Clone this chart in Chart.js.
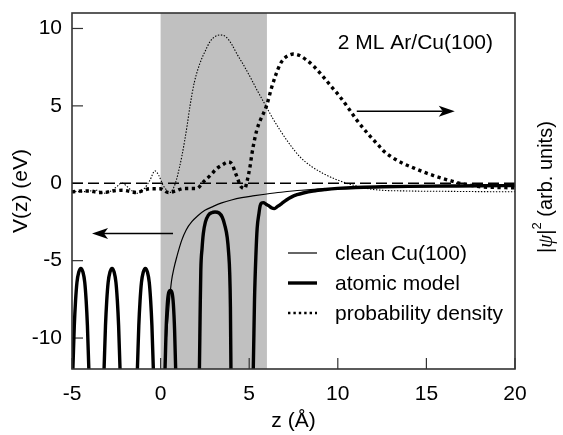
<!DOCTYPE html>
<html><head><meta charset="utf-8">
<script src="https://cdn.jsdelivr.net/npm/chart.js@4/dist/chart.umd.min.js"></script>
<style>html,body{margin:0;padding:0;background:#fff;}#wrap{width:563px;height:435px;}</style>
</head><body><div id="wrap"><canvas id="c" width="563" height="435"></canvas></div>
<script>
// ---- data ----
const xTicks = [-5, 0, 5, 10, 15, 20];
const yTicks = [-10, -5, 0, 5, 10];
const shadeRange = [0, 6];
const zeroZ = [-5, 20];
const zeroV = [0, 0];

const cleanZ = [0.22, 0.25, 0.34, 0.44, 0.53, 0.62, 0.75, 0.91, 1.19, 1.45, 1.75, 2.1, 2.5, 3.0, 3.45, 4.0, 4.58, 5.2, 5.89, 6.8, 7.96, 9.5, 11, 13, 15, 17.5, 20];
const cleanV = [-13, -11.46, -9.8, -8.4, -7.2, -6.28, -5.5, -4.77, -3.69, -3.0, -2.5, -2.1, -1.75, -1.48, -1.27, -1.08, -0.93, -0.82, -0.71, -0.58, -0.45, -0.35, -0.3, -0.25, -0.22, -0.2, -0.18];

const atomicZ = [
  -5.0, -4.95, -4.87, -4.8, -4.72, -4.62, -4.5, -4.38, -4.28, -4.2, -4.13, -4.05, -4.0, null,
  -3.24, -3.19, -3.11, -3.04, -2.96, -2.86, -2.74, -2.62, -2.52, -2.44, -2.37, -2.29, -2.24, null,
  -1.36, -1.31, -1.23, -1.16, -1.08, -0.98, -0.86, -0.74, -0.64, -0.56, -0.49, -0.41, -0.36, null,
  0.2, 0.25, 0.31, 0.38, 0.45, 0.55, 0.65, 0.72, 0.79, 0.85, 0.9, null,
  2.14, 2.19, 2.23, 2.27, 2.34, 2.41, 2.53, 2.69, 2.88, 3.07, 3.3, 3.48, 3.62, 3.76, 3.84, 3.9, 3.94, 3.97, 4.02, null,
  5.18, 5.23, 5.3, 5.38, 5.45, 5.55, 5.62, 5.7, 5.8, 5.95, 6.1, 6.25, 6.42, 6.6, 6.83, 7.1, 7.4, 7.7, 8.05, 8.6, 9.3, 10, 11, 12.5, 14, 16, 18, 20
];
const atomicV = [
  -13.5, -12, -9.2, -7.6, -6.4, -5.75, -5.5, -5.75, -6.4, -7.6, -9.2, -12, -13.5, null,
  -13.5, -12, -9.2, -7.6, -6.4, -5.75, -5.5, -5.75, -6.4, -7.6, -9.2, -12, -13.5, null,
  -13.5, -12, -9.2, -7.6, -6.4, -5.75, -5.5, -5.75, -6.4, -7.6, -9.2, -12, -13.5, null,
  -13.5, -12, -9.5, -7.8, -7.1, -6.93, -7.1, -7.8, -9.5, -12, -13.5, null,
  -13.5, -12, -8.5, -5.6, -4.2, -3.26, -2.5, -2.07, -1.9, -1.86, -1.92, -2.2, -2.7, -3.5, -4.5, -5.8, -8.0, -12, -13.5, null,
  -13.5, -12, -7.5, -4.6, -2.9, -1.95, -1.45, -1.27, -1.25, -1.35, -1.45, -1.58, -1.64, -1.5, -1.31, -1.08, -0.88, -0.74, -0.63, -0.5, -0.4, -0.33, -0.27, -0.23, -0.2, -0.18, -0.16, -0.15
];

const densityAZ = [-5, -4.5, -4, -3.6, -3.23, -2.8, -2.45, -2.2, -1.9, -1.6, -1.35, -1.0, -0.6, -0.32, -0.1, 0.14, 0.35, 0.53, 0.75, 0.9, 1.05, 1.2, 1.35, 1.5, 1.66, 1.9, 2.22, 2.5, 2.79, 3.1, 3.39, 3.7, 4.0, 4.29, 4.65, 5.05, 5.45, 5.89, 6.3, 6.74, 7.3, 7.87, 8.5, 9.18, 10.0, 10.9, 12, 14, 16, 18, 20];
const densityAV = [-0.5, -0.55, -0.5, -0.45, -0.65, -0.5, -0.2, 0.02, -0.2, -0.5, -0.65, -0.45, 0.2, 0.8, 0.5, -0.13, -0.45, -0.6, -0.25, 0.25, 0.95, 1.75, 2.7, 3.75, 5.0, 6.5, 7.75, 8.5, 9.15, 9.5, 9.58, 9.45, 9.0, 8.39, 7.7, 6.88, 6.0, 5.1, 4.25, 3.43, 2.5, 1.7, 1.1, 0.63, 0.2, -0.13, -0.4, -0.5, -0.52, -0.54, -0.55];

const densityBZ = [-5, -4.5, -3.98, -3.6, -3.23, -2.7, -2.16, -1.75, -1.35, -0.95, -0.6, -0.03, 0.44, 0.85, 1.28, 1.7, 2.04, 2.41, 2.8, 3.17, 3.5, 3.82, 4.05, 4.2, 4.35, 4.48, 4.62, 4.76, 4.86, 4.95, 5.05, 5.14, 5.23, 5.42, 5.6, 5.8, 5.99, 6.27, 6.5, 6.75, 6.92, 7.2, 7.49, 7.85, 8.24, 8.7, 9.18, 9.6, 10.12, 10.6, 11.07, 11.7, 12.29, 12.57, 13.1, 13.7, 14.3, 14.83, 15.4, 15.95, 16.5, 17.08, 17.6, 18.2, 19, 20];
const densityBV = [-0.56, -0.5, -0.5, -0.58, -0.6, -0.5, -0.45, -0.52, -0.6, -0.45, -0.35, -0.35, -0.6, -0.5, -0.34, -0.34, -0.34, 0.09, 0.5, 0.95, 1.2, 1.38, 1.2, 0.73, 0.3, -0.13, -0.3, -0.34, 0.05, 0.5, 1.1, 1.8, 2.4, 3.4, 4.0, 4.5, 5.05, 6.2, 7.0, 7.7, 8.0, 8.25, 8.35, 8.25, 7.96, 7.5, 6.88, 6.3, 5.59, 4.85, 4.08, 3.2, 2.46, 2.1, 1.65, 1.27, 0.98, 0.73, 0.5, 0.3, 0.12, -0.06, -0.15, -0.24, -0.27, -0.3];

const legendLabels = ['clean Cu(100)', 'atomic model', 'probability density'];
const insetTitle = '2 ML Ar/Cu(100)';
const arrowLeft = [[0.7, -3.24], [-3.87, -3.24]];
const arrowRight = [[11.07, 4.66], [16.6, 4.66]];

// ---- helpers ----
const pts = (zs, vs) => zs.map((z, i) => ({x: z === null ? NaN : z, y: vs[i]}));
const FONT = "'Liberation Sans', Arial, Helvetica, sans-serif";

const lineStyles = {
  clean: {borderColor: '#000', borderWidth: 1.2, borderDash: []},
  atomic: {borderColor: '#000', borderWidth: 3.4, borderDash: []},
  densA: {borderColor: '#000', borderWidth: 1.1, borderDash: [1.4, 1.6]},
  densB: {borderColor: '#000', borderWidth: 3.4, borderDash: [3.3, 3.5]},
  zero: {borderColor: '#000', borderWidth: 1.4, borderDash: [11, 5]}
};

function mk(label, zs, vs, st, order) {
  return Object.assign({
    label, data: pts(zs, vs), pointRadius: 0, fill: false, clip: 0,
    cubicInterpolationMode: 'monotone', spanGaps: false, borderCapStyle: 'butt', order
  }, st);
}

function arrow(ctx, x0, y0, x1, y1) {
  const ang = Math.atan2(y1 - y0, x1 - x0);
  const L = 16, W = 5.5, N = 4;
  ctx.beginPath();
  ctx.moveTo(x0, y0);
  ctx.lineTo(x1 - Math.cos(ang) * (L - N), y1 - Math.sin(ang) * (L - N));
  ctx.stroke();
  ctx.save();
  ctx.translate(x1, y1); ctx.rotate(ang);
  ctx.beginPath();
  ctx.moveTo(0, 0);
  ctx.lineTo(-L, -W);
  ctx.lineTo(-L + N, 0);
  ctx.lineTo(-L, W);
  ctx.closePath();
  ctx.fill();
  ctx.restore();
}

const decor = {
  id: 'decor',
  beforeDatasetsDraw(chart) {
    const {ctx, chartArea: a, scales: {x, y}} = chart;
    ctx.save();
    ctx.fillStyle = '#c0c0c0';
    const s0 = x.getPixelForValue(shadeRange[0]), s1 = x.getPixelForValue(shadeRange[1]);
    ctx.fillRect(s0, a.top, s1 - s0, a.bottom - a.top);
    ctx.strokeStyle = '#333'; ctx.lineWidth = 1.2;
    xTicks.forEach(v => {
      const px = x.getPixelForValue(v);
      ctx.beginPath(); ctx.moveTo(px, a.bottom); ctx.lineTo(px, a.bottom - 11); ctx.stroke();
    });
    yTicks.forEach(v => {
      const py = y.getPixelForValue(v);
      ctx.beginPath(); ctx.moveTo(a.left, py); ctx.lineTo(a.left + 11, py); ctx.stroke();
    });
    ctx.restore();
  },
  afterDatasetsDraw(chart) {
    const {ctx, chartArea: a, scales: {x, y}} = chart;
    ctx.save();
    // frame
    ctx.strokeStyle = '#333'; ctx.lineWidth = 1.6;
    ctx.strokeRect(a.left, a.top, a.right - a.left, a.bottom - a.top);
    // arrows
    ctx.strokeStyle = '#000'; ctx.fillStyle = '#000'; ctx.lineWidth = 1.5;
    [arrowLeft, arrowRight].forEach(ar => {
      arrow(ctx, x.getPixelForValue(ar[0][0]), y.getPixelForValue(ar[0][1]),
                 x.getPixelForValue(ar[1][0]), y.getPixelForValue(ar[1][1]));
    });
    // inset title
    ctx.font = '21px ' + FONT;
    ctx.textAlign = 'right'; ctx.textBaseline = 'alphabetic';
    ctx.fillText(insetTitle, a.right - 22, a.top + 36);
    // legend
    const styles = [lineStyles.clean, lineStyles.atomic, {borderWidth: 2.4, borderDash: [2.4, 3]}];
    const lx0 = 288, lx1 = 317, tx = 335, ly0 = 253, dy = 30;
    styles.forEach((st, i) => {
      const yy = ly0 + i * dy;
      ctx.save();
      ctx.strokeStyle = '#000'; ctx.lineWidth = st.borderWidth; ctx.setLineDash(st.borderDash);
      ctx.beginPath(); ctx.moveTo(lx0, yy); ctx.lineTo(lx1, yy); ctx.stroke();
      ctx.restore();
      ctx.textAlign = 'left'; ctx.textBaseline = 'middle';
      ctx.fillText(legendLabels[i], tx, yy + 1);
    });
    // right axis title, rotated, reading bottom to top
    ctx.save();
    ctx.translate(546, 253);
    ctx.rotate(-Math.PI / 2);
    ctx.textAlign = 'left'; ctx.textBaseline = 'middle';
    let cx = 0;
    const part = (t, f, dyy) => { ctx.font = f; ctx.fillText(t, cx, dyy || 0); cx += ctx.measureText(t).width; };
    part('|', '20px ' + FONT);
    part('\u03C8', 'italic 21px "Liberation Serif", "DejaVu Serif", serif');
    part('|', '20px ' + FONT);
    part('2', '13px ' + FONT, -9);
    part(' (arb. units)', '20px ' + FONT);
    ctx.restore();
    ctx.restore();
  }
};

new Chart(document.getElementById('c').getContext('2d'), {
  type: 'line',
  data: {
    datasets: [
      mk('atomic model', atomicZ, atomicV, lineStyles.atomic, 1),
      mk('clean Cu(100)', cleanZ, cleanV, lineStyles.clean, 2),
      mk('probability density', densityBZ, densityBV, lineStyles.densB, 3),
      mk('probability density (2)', densityAZ, densityAV, lineStyles.densA, 4),
      mk('zero', zeroZ, zeroV, lineStyles.zero, 5)
    ]
  },
  options: {
    responsive: false, animation: false, devicePixelRatio: 1,
    layout: {padding: {top: 13, right: 48, left: 0, bottom: 0}},
    plugins: {legend: {display: false}, tooltip: {enabled: false}},
    scales: {
      x: {
        type: 'linear', min: -5, max: 20,
        afterBuildTicks(s) { s.ticks = xTicks.map(v => ({value: v})); },
        afterFit(s) { s.height = 66; s.paddingLeft = 0; s.paddingRight = 0; },
        ticks: {font: {family: FONT, size: 21}, color: '#000', padding: 13, maxRotation: 0, autoSkip: false},
        grid: {display: false, drawTicks: false}, border: {display: false},
        title: {display: true, text: 'z (Å)', color: '#000', font: {family: FONT, size: 21, lineHeight: 1.2}, padding: {top: 0, bottom: 1}}
      },
      y: {
        type: 'linear', min: -12, max: 11,
        afterBuildTicks(s) { s.ticks = yTicks.map(v => ({value: v})); },
        afterFit(s) { s.width = 72; s.paddingTop = 0; s.paddingBottom = 0; },
        ticks: {font: {family: FONT, size: 21}, color: '#000', padding: 10},
        grid: {display: false, drawTicks: false}, border: {display: false},
        title: {display: true, text: 'V(z) (eV)', color: '#000', font: {family: FONT, size: 21, lineHeight: 1.2}, padding: {top: 9, bottom: 0}}
      }
    }
  },
  plugins: [decor]
});
</script>
</body></html>
